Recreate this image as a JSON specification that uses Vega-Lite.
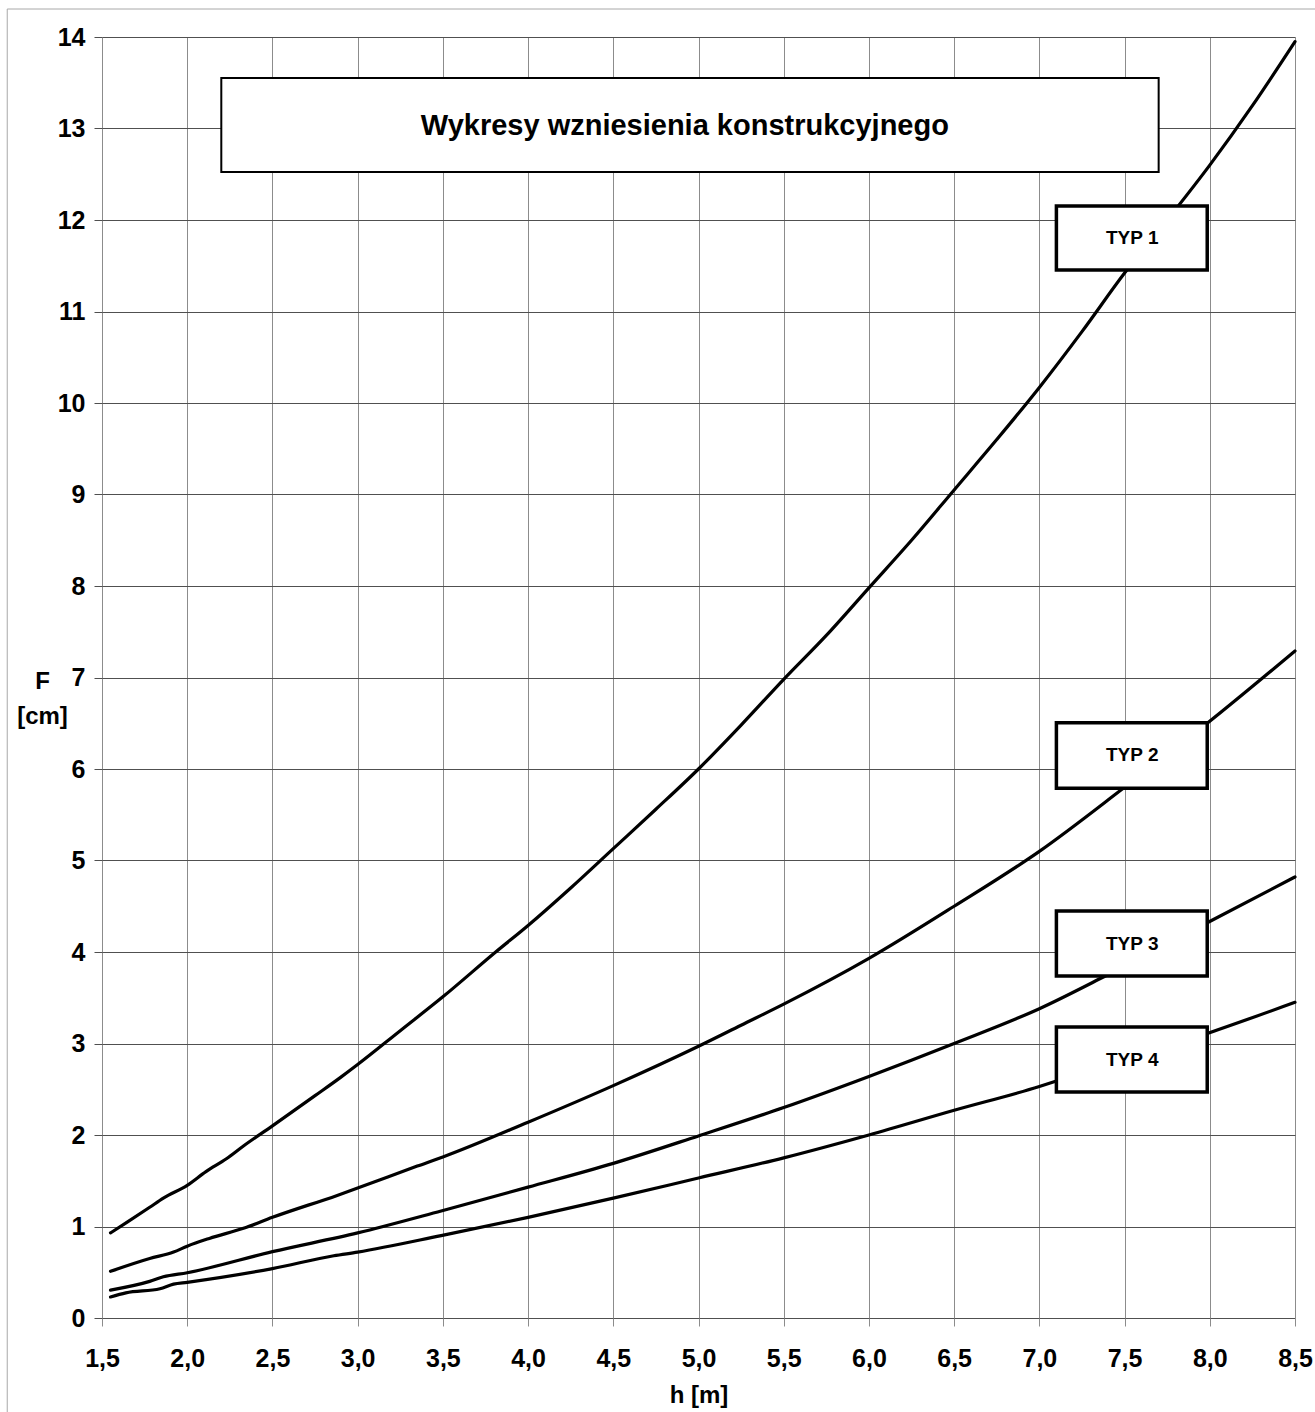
{
  "$schema": "https://vega.github.io/schema/vega-lite/v6.json",
  "width": 1193,
  "height": 1281,
  "autosize": "none",
  "padding": {"left": 102, "top": 37, "right": 20, "bottom": 94},
  "background": "white",
  "config": {"view": {"stroke": null}, "font": "Liberation Sans"},
  "datasets": {
    "curves": [
      {"typ": "TYP 1", "h": 1.55, "F": 0.93},
      {"typ": "TYP 1", "h": 1.65, "F": 1.05},
      {"typ": "TYP 1", "h": 1.78, "F": 1.21},
      {"typ": "TYP 1", "h": 1.86, "F": 1.31},
      {"typ": "TYP 1", "h": 2.0, "F": 1.45},
      {"typ": "TYP 1", "h": 2.11, "F": 1.6},
      {"typ": "TYP 1", "h": 2.23, "F": 1.74},
      {"typ": "TYP 1", "h": 2.33, "F": 1.88},
      {"typ": "TYP 1", "h": 2.5, "F": 2.1},
      {"typ": "TYP 1", "h": 2.75, "F": 2.43},
      {"typ": "TYP 1", "h": 2.9, "F": 2.63},
      {"typ": "TYP 1", "h": 3.0, "F": 2.77},
      {"typ": "TYP 1", "h": 3.25, "F": 3.14},
      {"typ": "TYP 1", "h": 3.5, "F": 3.51},
      {"typ": "TYP 1", "h": 3.81, "F": 4.0},
      {"typ": "TYP 1", "h": 4.0, "F": 4.29},
      {"typ": "TYP 1", "h": 4.25, "F": 4.7},
      {"typ": "TYP 1", "h": 4.5, "F": 5.13},
      {"typ": "TYP 1", "h": 4.75, "F": 5.56},
      {"typ": "TYP 1", "h": 5.0, "F": 6.0},
      {"typ": "TYP 1", "h": 5.25, "F": 6.48},
      {"typ": "TYP 1", "h": 5.5, "F": 6.98},
      {"typ": "TYP 1", "h": 5.75, "F": 7.46},
      {"typ": "TYP 1", "h": 6.0, "F": 7.98},
      {"typ": "TYP 1", "h": 6.25, "F": 8.5},
      {"typ": "TYP 1", "h": 6.5, "F": 9.05},
      {"typ": "TYP 1", "h": 6.75, "F": 9.6},
      {"typ": "TYP 1", "h": 7.0, "F": 10.17},
      {"typ": "TYP 1", "h": 7.25, "F": 10.78},
      {"typ": "TYP 1", "h": 7.5, "F": 11.42},
      {"typ": "TYP 1", "h": 7.75, "F": 12.0},
      {"typ": "TYP 1", "h": 8.0, "F": 12.6},
      {"typ": "TYP 1", "h": 8.25, "F": 13.25},
      {"typ": "TYP 1", "h": 8.5, "F": 13.95},

      {"typ": "TYP 2", "h": 1.55, "F": 0.51},
      {"typ": "TYP 2", "h": 1.78, "F": 0.65},
      {"typ": "TYP 2", "h": 1.92, "F": 0.72},
      {"typ": "TYP 2", "h": 2.0, "F": 0.785},
      {"typ": "TYP 2", "h": 2.13, "F": 0.87},
      {"typ": "TYP 2", "h": 2.33, "F": 0.98},
      {"typ": "TYP 2", "h": 2.5, "F": 1.1},
      {"typ": "TYP 2", "h": 2.88, "F": 1.34},
      {"typ": "TYP 2", "h": 3.0, "F": 1.42},
      {"typ": "TYP 2", "h": 3.35, "F": 1.66},
      {"typ": "TYP 2", "h": 3.5, "F": 1.76},
      {"typ": "TYP 2", "h": 4.0, "F": 2.14},
      {"typ": "TYP 2", "h": 4.5, "F": 2.54},
      {"typ": "TYP 2", "h": 5.0, "F": 2.97},
      {"typ": "TYP 2", "h": 5.25, "F": 3.2},
      {"typ": "TYP 2", "h": 5.5, "F": 3.43},
      {"typ": "TYP 2", "h": 6.0, "F": 3.93},
      {"typ": "TYP 2", "h": 6.5, "F": 4.5},
      {"typ": "TYP 2", "h": 7.0, "F": 5.1},
      {"typ": "TYP 2", "h": 7.5, "F": 5.8},
      {"typ": "TYP 2", "h": 7.985, "F": 6.5},
      {"typ": "TYP 2", "h": 8.5, "F": 7.29},

      {"typ": "TYP 3", "h": 1.55, "F": 0.305},
      {"typ": "TYP 3", "h": 1.78, "F": 0.4},
      {"typ": "TYP 3", "h": 1.86, "F": 0.45},
      {"typ": "TYP 3", "h": 2.0, "F": 0.495},
      {"typ": "TYP 3", "h": 2.5, "F": 0.725},
      {"typ": "TYP 3", "h": 3.0, "F": 0.93},
      {"typ": "TYP 3", "h": 3.49, "F": 1.17},
      {"typ": "TYP 3", "h": 4.0, "F": 1.43},
      {"typ": "TYP 3", "h": 4.5, "F": 1.69},
      {"typ": "TYP 3", "h": 5.0, "F": 1.99},
      {"typ": "TYP 3", "h": 5.5, "F": 2.3},
      {"typ": "TYP 3", "h": 6.0, "F": 2.64},
      {"typ": "TYP 3", "h": 6.5, "F": 3.0},
      {"typ": "TYP 3", "h": 7.0, "F": 3.38},
      {"typ": "TYP 3", "h": 7.39, "F": 3.74},
      {"typ": "TYP 3", "h": 7.985, "F": 4.32},
      {"typ": "TYP 3", "h": 8.5, "F": 4.82},

      {"typ": "TYP 4", "h": 1.55, "F": 0.23},
      {"typ": "TYP 4", "h": 1.64, "F": 0.275},
      {"typ": "TYP 4", "h": 1.84, "F": 0.32},
      {"typ": "TYP 4", "h": 1.92, "F": 0.37},
      {"typ": "TYP 4", "h": 2.0, "F": 0.39},
      {"typ": "TYP 4", "h": 2.5, "F": 0.54},
      {"typ": "TYP 4", "h": 2.86, "F": 0.68},
      {"typ": "TYP 4", "h": 3.0, "F": 0.72},
      {"typ": "TYP 4", "h": 3.49, "F": 0.9},
      {"typ": "TYP 4", "h": 4.0, "F": 1.1},
      {"typ": "TYP 4", "h": 4.5, "F": 1.31},
      {"typ": "TYP 4", "h": 5.0, "F": 1.53},
      {"typ": "TYP 4", "h": 5.5, "F": 1.75},
      {"typ": "TYP 4", "h": 6.0, "F": 2.0},
      {"typ": "TYP 4", "h": 6.5, "F": 2.27},
      {"typ": "TYP 4", "h": 7.0, "F": 2.53},
      {"typ": "TYP 4", "h": 7.1, "F": 2.59},
      {"typ": "TYP 4", "h": 7.985, "F": 3.11},
      {"typ": "TYP 4", "h": 8.5, "F": 3.45}
    ],
    "typboxes": [
      {"label": "TYP 1", "h1": 7.1, "h2": 7.985, "F1": 11.454, "F2": 12.153, "hc": 7.545, "Fc": 11.8},
      {"label": "TYP 2", "h1": 7.1, "h2": 7.985, "F1": 5.789, "F2": 6.506, "hc": 7.545, "Fc": 6.15},
      {"label": "TYP 3", "h1": 7.1, "h2": 7.985, "F1": 3.738, "F2": 4.448, "hc": 7.545, "Fc": 4.09},
      {"label": "TYP 4", "h1": 7.1, "h2": 7.985, "F1": 2.47, "F2": 3.18, "hc": 7.545, "Fc": 2.825}
    ],
    "titlebox": [
      {"label": "Wykresy wzniesienia konstrukcyjnego", "h1": 2.2, "h2": 7.7, "F1": 12.525, "F2": 13.552, "hc": 4.92, "Fc": 13.03}
    ]
  },
  "layer": [
    {
      "data": {"name": "curves"},
      "mark": {"type": "line", "color": "black", "strokeWidth": 3.2, "strokeJoin": "round", "strokeCap": "round", "interpolate": "monotone"},
      "encoding": {
        "x": {
          "field": "h", "type": "quantitative",
          "scale": {"domain": [1.5, 8.5], "nice": false, "zero": false},
          "axis": {
            "values": [1.5, 2, 2.5, 3, 3.5, 4, 4.5, 5, 5.5, 6, 6.5, 7, 7.5, 8, 8.5],
            "labelExpr": "replace(format(datum.value, '.1f'), '.', ',')",
            "grid": true, "gridColor": "#8c8c8c", "gridWidth": 1,
            "domain": false, "ticks": true, "tickColor": "#8c8c8c", "tickSize": 8,
            "labelFont": "Liberation Sans", "labelFontSize": 25, "labelFontWeight": "bold",
            "labelColor": "black", "labelPadding": 20, "labelFlush": false, "labelOverlap": false,
            "title": "h [m]", "titleFont": "Liberation Sans", "titleFontSize": 24, "titleFontWeight": "bold",
            "titleColor": "black", "titleBaseline": "alphabetic", "titleY": 84
          }
        },
        "y": {
          "field": "F", "type": "quantitative",
          "scale": {"domain": [0, 14], "nice": false},
          "axis": {
            "values": [0, 1, 2, 3, 4, 5, 6, 7, 8, 9, 10, 11, 12, 13, 14],
            "format": "d",
            "grid": true, "gridColor": "#505050", "gridWidth": 1,
            "domain": false, "ticks": true, "tickColor": "#505050", "tickSize": 8,
            "labelFont": "Liberation Sans", "labelFontSize": 25, "labelFontWeight": "bold",
            "labelColor": "black", "labelPadding": 9, "labelFlush": false, "labelOverlap": false,
            "title": ["F", "[cm]"], "titleFont": "Liberation Sans", "titleFontSize": 24, "titleFontWeight": "bold",
            "titleColor": "black", "titleAngle": 0, "titleAlign": "center", "titleBaseline": "alphabetic",
            "titleX": -60, "titleY": 651, "titleLineHeight": 35
          }
        },
        "detail": {"field": "typ"}
      }
    },
    {
      "data": {"name": "titlebox"},
      "mark": {"type": "rect", "fill": "white", "stroke": "black", "strokeWidth": 2},
      "encoding": {
        "x": {"field": "h1", "type": "quantitative"},
        "x2": {"field": "h2"},
        "y": {"field": "F1", "type": "quantitative"},
        "y2": {"field": "F2"}
      }
    },
    {
      "data": {"name": "titlebox"},
      "mark": {"type": "text", "font": "Liberation Sans", "fontWeight": "bold", "fontSize": 29, "align": "center", "baseline": "middle", "color": "black"},
      "encoding": {
        "x": {"field": "hc", "type": "quantitative"},
        "y": {"field": "Fc", "type": "quantitative"},
        "text": {"field": "label"}
      }
    },
    {
      "data": {"name": "typboxes"},
      "mark": {"type": "rect", "fill": "white", "stroke": "black", "strokeWidth": 3.5},
      "encoding": {
        "x": {"field": "h1", "type": "quantitative"},
        "x2": {"field": "h2"},
        "y": {"field": "F1", "type": "quantitative"},
        "y2": {"field": "F2"}
      }
    },
    {
      "data": {"name": "typboxes"},
      "mark": {"type": "text", "font": "Liberation Sans", "fontWeight": "bold", "fontSize": 19, "align": "center", "baseline": "middle", "color": "black"},
      "encoding": {
        "x": {"field": "hc", "type": "quantitative"},
        "y": {"field": "Fc", "type": "quantitative"},
        "text": {"field": "label"}
      }
    },
    {
      "data": {"values": [{}]},
      "mark": {"type": "rect", "fill": null, "stroke": "#a8a8a8", "strokeWidth": 1, "clip": false},
      "encoding": {
        "x": {"datum": 0.944, "type": "quantitative"},
        "x2": {"datum": 9.3},
        "y": {"datum": 14.306, "type": "quantitative"},
        "y2": {"datum": -2}
      }
    }
  ]
}
